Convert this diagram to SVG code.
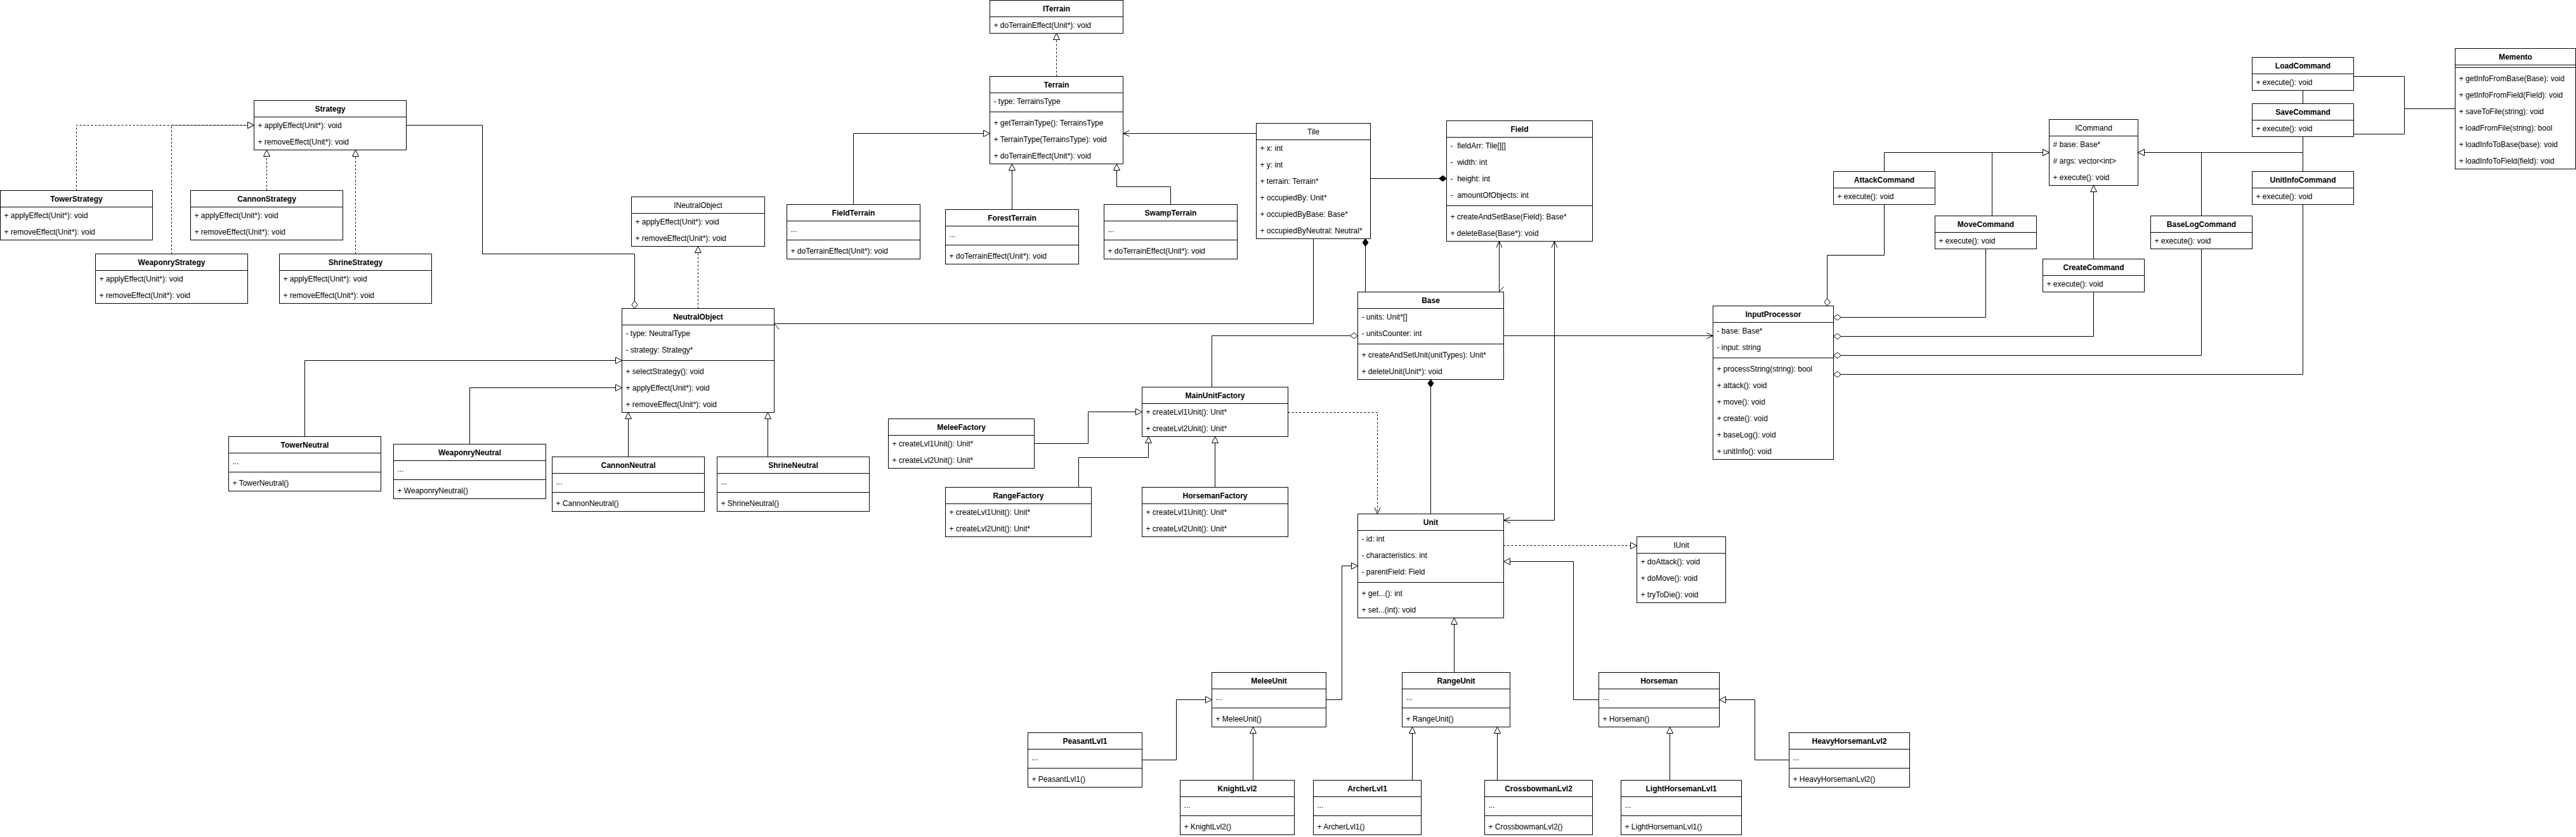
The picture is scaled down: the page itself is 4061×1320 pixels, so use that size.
<svg xmlns="http://www.w3.org/2000/svg" width="4061" height="1320" viewBox="0 0 4061 1320">
<style>
.c rect{fill:#fff;stroke:#000;stroke-width:1}
.c line{stroke:#000;stroke-width:1}
text{font-family:"Liberation Sans",Arial,Helvetica,sans-serif;font-size:12px;fill:#000}
.h{font-weight:bold;text-anchor:middle}
.hn{text-anchor:middle}
#connectors path{fill:none;stroke:#000;stroke-width:1}
#connectors .d{stroke-dasharray:3 3}
</style>
<defs>
<marker id="tri" markerUnits="userSpaceOnUse" orient="auto" refX="10" refY="5" markerWidth="12" markerHeight="12" overflow="visible"><path d="M0,0 L10,5 L0,10 Z" fill="#fff" stroke="#000" stroke-width="1"/></marker>
<marker id="open" markerUnits="userSpaceOnUse" orient="auto" refX="10" refY="5" markerWidth="12" markerHeight="12" overflow="visible"><path d="M0,0.5 L10,5 L0,9.5" fill="none" stroke="#000" stroke-width="1"/></marker>
<marker id="openS" markerUnits="userSpaceOnUse" orient="auto-start-reverse" refX="10" refY="5" markerWidth="12" markerHeight="12" overflow="visible"><path d="M0,0.5 L10,5 L0,9.5" fill="none" stroke="#000" stroke-width="1"/></marker>
<marker id="dia" markerUnits="userSpaceOnUse" orient="auto" refX="0" refY="5" markerWidth="14" markerHeight="12" overflow="visible"><path d="M0,5 L6,0.5 L12,5 L6,9.5 Z" fill="#fff" stroke="#000" stroke-width="1"/></marker>
<marker id="fdia" markerUnits="userSpaceOnUse" orient="auto" refX="0" refY="5" markerWidth="14" markerHeight="12" overflow="visible"><path d="M0,5 L6,0.5 L12,5 L6,9.5 Z" fill="#000" stroke="#000" stroke-width="1"/></marker>
</defs>
<rect x="0" y="0" width="4061" height="1320" fill="#fff"/>
<g transform="translate(0.5,0.5)">
<g id="connectors">
<path class="d" d="M120,300 V197 H400" marker-end="url(#tri)"/>
<path class="d" d="M270,400 V197 H400" marker-end="url(#tri)"/>
<path class="d" d="M420,300 V236" marker-end="url(#tri)"/>
<path class="d" d="M560,400 V236" marker-end="url(#tri)"/>
<path d="M1000,486 V400 H760 V197 H640" marker-start="url(#dia)"/>
<path class="d" d="M1100,486 V388" marker-end="url(#tri)"/>
<path d="M480,688 V568 H980" marker-end="url(#tri)"/>
<path d="M740,700 V611 H980" marker-end="url(#tri)"/>
<path d="M990,720 V650" marker-end="url(#tri)"/>
<path d="M1210,720 V650" marker-end="url(#tri)"/>
<path class="d" d="M1665,120 V52" marker-end="url(#tri)"/>
<path d="M1345,322 V210 H1560" marker-end="url(#tri)"/>
<path d="M1595,330 V258" marker-end="url(#tri)"/>
<path d="M1845,322 V294 H1760 V258" marker-end="url(#tri)"/>
<path d="M1980,210 H1770" marker-end="url(#open)"/>
<path d="M2070,376 V510 H1220"/>
<path d="M1215,519 L1220,510 L1228,519"/>
<path d="M2280,281 H2160" marker-start="url(#fdia)"/>
<path d="M2152,376 V460" marker-start="url(#fdia)"/>
<path d="M2363,460 V380" marker-end="url(#open)"/>
<path d="M2363,459 L2370,452"/>
<path d="M2370,820 H2450 V380" marker-start="url(#openS)" marker-end="url(#open)"/>
<path d="M2140,529 H1910 V610" marker-start="url(#dia)"/>
<path d="M2370,529 H2700" marker-end="url(#open)"/>
<path d="M2255,598 V810" marker-start="url(#fdia)"/>
<path class="d" d="M2030,650 H2171 V810" marker-end="url(#open)"/>
<path d="M1630,699 H1715 V649 H1800" marker-end="url(#tri)"/>
<path d="M1700,768 V721 H1810 V688" marker-end="url(#tri)"/>
<path d="M1915,768 V688" marker-end="url(#tri)"/>
<path class="d" d="M2370,860 H2580" marker-end="url(#tri)"/>
<path d="M2090,1103 H2115 V892 H2140" marker-end="url(#tri)"/>
<path d="M2292,1060 V974" marker-end="url(#tri)"/>
<path d="M2520,1103 H2480 V885 H2370" marker-end="url(#tri)"/>
<path d="M1800,1198 H1854 V1103 H1910" marker-end="url(#tri)"/>
<path d="M1975,1230 V1146" marker-end="url(#tri)"/>
<path d="M2226,1230 V1146" marker-end="url(#tri)"/>
<path d="M2360,1230 V1146" marker-end="url(#tri)"/>
<path d="M2632,1230 V1146" marker-end="url(#tri)"/>
<path d="M2820,1198 H2766 V1103 H2710" marker-end="url(#tri)"/>
<path d="M2970,270 V240 H3230" marker-end="url(#tri)"/>
<path d="M3140,340 V240 H3230" marker-end="url(#tri)"/>
<path d="M3300,408 V292" marker-end="url(#tri)"/>
<path d="M3470,340 V240 H3370" marker-end="url(#tri)"/>
<path d="M3630,270 V240 H3370" marker-end="url(#tri)"/>
<path d="M3630,215 V240"/>
<path d="M3630,142 V163"/>
<path d="M3710,120 H3790 V171 H3870"/>
<path d="M3710,211 H3790 V171"/>
<path d="M2880,482 V402 H2970 V322" marker-start="url(#dia)"/>
<path d="M2890,500 H3130 V392" marker-start="url(#dia)"/>
<path d="M2890,530 H3300 V460" marker-start="url(#dia)"/>
<path d="M2890,560 H3470 V392" marker-start="url(#dia)"/>
<path d="M2890,590 H3630 V322" marker-start="url(#dia)"/>
</g>

<g id="Strategy" class="c"><rect x="400" y="158" width="240" height="78"/><line x1="400" y1="184" x2="640" y2="184"/><text class="h" x="520" y="175">Strategy</text><text x="406" y="201">+ applyEffect(Unit*): void</text><text x="406" y="227">+ removeEffect(Unit*): void</text></g>
<g id="TowerStrategy" class="c"><rect x="0" y="300" width="240" height="78"/><line x1="0" y1="326" x2="240" y2="326"/><text class="h" x="120" y="317">TowerStrategy</text><text x="6" y="343">+ applyEffect(Unit*): void</text><text x="6" y="369">+ removeEffect(Unit*): void</text></g>
<g id="CannonStrategy" class="c"><rect x="300" y="300" width="240" height="78"/><line x1="300" y1="326" x2="540" y2="326"/><text class="h" x="420" y="317">CannonStrategy</text><text x="306" y="343">+ applyEffect(Unit*): void</text><text x="306" y="369">+ removeEffect(Unit*): void</text></g>
<g id="WeaponryStrategy" class="c"><rect x="150" y="400" width="240" height="78"/><line x1="150" y1="426" x2="390" y2="426"/><text class="h" x="270" y="417">WeaponryStrategy</text><text x="156" y="443">+ applyEffect(Unit*): void</text><text x="156" y="469">+ removeEffect(Unit*): void</text></g>
<g id="ShrineStrategy" class="c"><rect x="440" y="400" width="240" height="78"/><line x1="440" y1="426" x2="680" y2="426"/><text class="h" x="560" y="417">ShrineStrategy</text><text x="446" y="443">+ applyEffect(Unit*): void</text><text x="446" y="469">+ removeEffect(Unit*): void</text></g>

<g id="INeutralObject" class="c"><rect x="995" y="310" width="210" height="78"/><line x1="995" y1="336" x2="1205" y2="336"/><text class="hn" x="1100" y="327">INeutralObject</text><text x="1001" y="353">+ applyEffect(Unit*): void</text><text x="1001" y="379">+ removeEffect(Unit*): void</text></g>
<g id="NeutralObject" class="c"><rect x="980" y="486" width="240" height="164"/><line x1="980" y1="512" x2="1220" y2="512"/><line x1="980" y1="568" x2="1220" y2="568"/><text class="h" x="1100" y="503">NeutralObject</text><text x="986" y="529">- type: NeutralType</text><text x="986" y="555">- strategy: Strategy*</text><text x="986" y="589">+ selectStrategy(): void</text><text x="986" y="615">+ applyEffect(Unit*): void</text><text x="986" y="641">+ removeEffect(Unit*): void</text></g>
<g id="TowerNeutral" class="c"><rect x="360" y="688" width="240" height="86"/><line x1="360" y1="714" x2="600" y2="714"/><line x1="360" y1="744" x2="600" y2="744"/><text class="h" x="480" y="705">TowerNeutral</text><text x="366" y="731">...</text><text x="366" y="765">+ TowerNeutral()</text></g>
<g id="WeaponryNeutral" class="c"><rect x="620" y="700" width="240" height="86"/><line x1="620" y1="726" x2="860" y2="726"/><line x1="620" y1="756" x2="860" y2="756"/><text class="h" x="740" y="717">WeaponryNeutral</text><text x="626" y="743">...</text><text x="626" y="777">+ WeaponryNeutral()</text></g>
<g id="CannonNeutral" class="c"><rect x="870" y="720" width="240" height="86"/><line x1="870" y1="746" x2="1110" y2="746"/><line x1="870" y1="776" x2="1110" y2="776"/><text class="h" x="990" y="737">CannonNeutral</text><text x="876" y="763">...</text><text x="876" y="797">+ CannonNeutral()</text></g>
<g id="ShrineNeutral" class="c"><rect x="1130" y="720" width="240" height="86"/><line x1="1130" y1="746" x2="1370" y2="746"/><line x1="1130" y1="776" x2="1370" y2="776"/><text class="h" x="1250" y="737">ShrineNeutral</text><text x="1136" y="763">...</text><text x="1136" y="797">+ ShrineNeutral()</text></g>

<g id="ITerrain" class="c"><rect x="1560" y="0" width="210" height="52"/><line x1="1560" y1="26" x2="1770" y2="26"/><text class="h" x="1665" y="17">ITerrain</text><text x="1566" y="43">+ doTerrainEffect(Unit*): void</text></g>
<g id="Terrain" class="c"><rect x="1560" y="120" width="210" height="138"/><line x1="1560" y1="146" x2="1770" y2="146"/><line x1="1560" y1="176" x2="1770" y2="176"/><text class="h" x="1665" y="137">Terrain</text><text x="1566" y="163">- type: TerrainsType</text><text x="1566" y="197">+ getTerrainType(): TerrainsType</text><text x="1566" y="223">+ TerrainType(TerrainsType): void</text><text x="1566" y="249">+ doTerrainEffect(Unit*): void</text></g>
<g id="FieldTerrain" class="c"><rect x="1240" y="322" width="210" height="86"/><line x1="1240" y1="348" x2="1450" y2="348"/><line x1="1240" y1="378" x2="1450" y2="378"/><text class="h" x="1345" y="339">FieldTerrain</text><text x="1246" y="365">...</text><text x="1246" y="399">+ doTerrainEffect(Unit*): void</text></g>
<g id="ForestTerrain" class="c"><rect x="1490" y="330" width="210" height="86"/><line x1="1490" y1="356" x2="1700" y2="356"/><line x1="1490" y1="386" x2="1700" y2="386"/><text class="h" x="1595" y="347">ForestTerrain</text><text x="1496" y="373">...</text><text x="1496" y="407">+ doTerrainEffect(Unit*): void</text></g>
<g id="SwampTerrain" class="c"><rect x="1740" y="322" width="210" height="86"/><line x1="1740" y1="348" x2="1950" y2="348"/><line x1="1740" y1="378" x2="1950" y2="378"/><text class="h" x="1845" y="339">SwampTerrain</text><text x="1746" y="365">...</text><text x="1746" y="399">+ doTerrainEffect(Unit*): void</text></g>
<g id="Tile" class="c"><rect x="1980" y="194" width="180" height="182"/><line x1="1980" y1="220" x2="2160" y2="220"/><text class="hn" x="2070" y="211">Tile</text><text x="1986" y="237">+ x: int</text><text x="1986" y="263">+ y: int</text><text x="1986" y="289">+ terrain: Terrain*</text><text x="1986" y="315">+ occupiedBy: Unit*</text><text x="1986" y="341">+ occupiedByBase: Base*</text><text x="1986" y="367">+ occupiedByNeutral: Neutral*</text></g>
<g id="Field" class="c"><rect x="2280" y="190" width="230" height="190"/><line x1="2280" y1="216" x2="2510" y2="216"/><line x1="2280" y1="324" x2="2510" y2="324"/><text class="h" x="2395" y="207">Field</text><text x="2286" y="233" xml:space="preserve">-  fieldArr: Tile[][]</text><text x="2286" y="259" xml:space="preserve">-  width: int</text><text x="2286" y="285" xml:space="preserve">-  height: int</text><text x="2286" y="311" xml:space="preserve">-  amountOfObjects: int</text><text x="2286" y="345">+ createAndSetBase(Field): Base*</text><text x="2286" y="371">+ deleteBase(Base*): void</text></g>
<g id="Base" class="c"><rect x="2140" y="460" width="230" height="138"/><line x1="2140" y1="486" x2="2370" y2="486"/><line x1="2140" y1="542" x2="2370" y2="542"/><text class="h" x="2255" y="477">Base</text><text x="2146" y="503">- units: Unit*[]</text><text x="2146" y="529">- unitsCounter: int</text><text x="2146" y="563">+ createAndSetUnit(unitTypes): Unit*</text><text x="2146" y="589">+ deleteUnit(Unit*): void</text></g>
<g id="MainUnitFactory" class="c"><rect x="1800" y="610" width="230" height="78"/><line x1="1800" y1="636" x2="2030" y2="636"/><text class="h" x="1915" y="627">MainUnitFactory</text><text x="1806" y="653">+ createLvl1Unit(): Unit*</text><text x="1806" y="679">+ createLvl2Unit(): Unit*</text></g>
<g id="MeleeFactory" class="c"><rect x="1400" y="660" width="230" height="78"/><line x1="1400" y1="686" x2="1630" y2="686"/><text class="h" x="1515" y="677">MeleeFactory</text><text x="1406" y="703">+ createLvl1Unit(): Unit*</text><text x="1406" y="729">+ createLvl2Unit(): Unit*</text></g>
<g id="RangeFactory" class="c"><rect x="1490" y="768" width="230" height="78"/><line x1="1490" y1="794" x2="1720" y2="794"/><text class="h" x="1605" y="785">RangeFactory</text><text x="1496" y="811">+ createLvl1Unit(): Unit*</text><text x="1496" y="837">+ createLvl2Unit(): Unit*</text></g>
<g id="HorsemanFactory" class="c"><rect x="1800" y="768" width="230" height="78"/><line x1="1800" y1="794" x2="2030" y2="794"/><text class="h" x="1915" y="785">HorsemanFactory</text><text x="1806" y="811">+ createLvl1Unit(): Unit*</text><text x="1806" y="837">+ createLvl2Unit(): Unit*</text></g>
<g id="Unit" class="c"><rect x="2140" y="810" width="230" height="164"/><line x1="2140" y1="836" x2="2370" y2="836"/><line x1="2140" y1="918" x2="2370" y2="918"/><text class="h" x="2255" y="827">Unit</text><text x="2146" y="853">- id: int</text><text x="2146" y="879">- characteristics: int</text><text x="2146" y="905">- parentField: Field</text><text x="2146" y="939">+ get...(): int</text><text x="2146" y="965">+ set...(int): void</text></g>
<g id="IUnit" class="c"><rect x="2580" y="846" width="140" height="104"/><line x1="2580" y1="872" x2="2720" y2="872"/><text class="hn" x="2650" y="863">IUnit</text><text x="2586" y="889">+ doAttack(): void</text><text x="2586" y="915">+ doMove(): void</text><text x="2586" y="941">+ tryToDie(): void</text></g>
<g id="MeleeUnit" class="c"><rect x="1910" y="1060" width="180" height="86"/><line x1="1910" y1="1086" x2="2090" y2="1086"/><line x1="1910" y1="1116" x2="2090" y2="1116"/><text class="h" x="2000" y="1077">MeleeUnit</text><text x="1916" y="1103">...</text><text x="1916" y="1137">+ MeleeUnit()</text></g>
<g id="RangeUnit" class="c"><rect x="2210" y="1060" width="170" height="86"/><line x1="2210" y1="1086" x2="2380" y2="1086"/><line x1="2210" y1="1116" x2="2380" y2="1116"/><text class="h" x="2295" y="1077">RangeUnit</text><text x="2216" y="1103">...</text><text x="2216" y="1137">+ RangeUnit()</text></g>
<g id="Horseman" class="c"><rect x="2520" y="1060" width="190" height="86"/><line x1="2520" y1="1086" x2="2710" y2="1086"/><line x1="2520" y1="1116" x2="2710" y2="1116"/><text class="h" x="2615" y="1077">Horseman</text><text x="2526" y="1103">...</text><text x="2526" y="1137">+ Horseman()</text></g>
<g id="PeasantLvl1" class="c"><rect x="1620" y="1155" width="180" height="86"/><line x1="1620" y1="1181" x2="1800" y2="1181"/><line x1="1620" y1="1211" x2="1800" y2="1211"/><text class="h" x="1710" y="1172">PeasantLvl1</text><text x="1626" y="1198">...</text><text x="1626" y="1232">+ PeasantLvl1()</text></g>
<g id="KnightLvl2" class="c"><rect x="1860" y="1230" width="180" height="86"/><line x1="1860" y1="1256" x2="2040" y2="1256"/><line x1="1860" y1="1286" x2="2040" y2="1286"/><text class="h" x="1950" y="1247">KnightLvl2</text><text x="1866" y="1273">...</text><text x="1866" y="1307">+ KnightLvl2()</text></g>
<g id="ArcherLvl1" class="c"><rect x="2070" y="1230" width="170" height="86"/><line x1="2070" y1="1256" x2="2240" y2="1256"/><line x1="2070" y1="1286" x2="2240" y2="1286"/><text class="h" x="2155" y="1247">ArcherLvl1</text><text x="2076" y="1273">...</text><text x="2076" y="1307">+ ArcherLvl1()</text></g>
<g id="CrossbowmanLvl2" class="c"><rect x="2340" y="1230" width="170" height="86"/><line x1="2340" y1="1256" x2="2510" y2="1256"/><line x1="2340" y1="1286" x2="2510" y2="1286"/><text class="h" x="2425" y="1247">CrossbowmanLvl2</text><text x="2346" y="1273">...</text><text x="2346" y="1307">+ CrossbowmanLvl2()</text></g>
<g id="LightHorsemanLvl1" class="c"><rect x="2555" y="1230" width="190" height="86"/><line x1="2555" y1="1256" x2="2745" y2="1256"/><line x1="2555" y1="1286" x2="2745" y2="1286"/><text class="h" x="2650" y="1247">LightHorsemanLvl1</text><text x="2561" y="1273">...</text><text x="2561" y="1307">+ LightHorsemanLvl1()</text></g>
<g id="HeavyHorsemanLvl2" class="c"><rect x="2820" y="1155" width="190" height="86"/><line x1="2820" y1="1181" x2="3010" y2="1181"/><line x1="2820" y1="1211" x2="3010" y2="1211"/><text class="h" x="2915" y="1172">HeavyHorsemanLvl2</text><text x="2826" y="1198">...</text><text x="2826" y="1232">+ HeavyHorsemanLvl2()</text></g>
<g id="InputProcessor" class="c"><rect x="2700" y="482" width="190" height="242"/><line x1="2700" y1="508" x2="2890" y2="508"/><line x1="2700" y1="564" x2="2890" y2="564"/><text class="h" x="2795" y="499">InputProcessor</text><text x="2706" y="525">- base: Base*</text><text x="2706" y="551">- input: string</text><text x="2706" y="585">+ processString(string): bool</text><text x="2706" y="611">+ attack(): void</text><text x="2706" y="637">+ move(): void</text><text x="2706" y="663">+ create(): void</text><text x="2706" y="689">+ baseLog(): void</text><text x="2706" y="715">+ unitInfo(): void</text></g>
<g id="ICommand" class="c"><rect x="3230" y="188" width="140" height="104"/><line x1="3230" y1="214" x2="3370" y2="214"/><text class="hn" x="3300" y="205">ICommand</text><text x="3236" y="231"># base: Base*</text><text x="3236" y="257"># args: vector&lt;int&gt;</text><text x="3236" y="283">+ execute(): void</text></g>
<g id="AttackCommand" class="c"><rect x="2890" y="270" width="160" height="52"/><line x1="2890" y1="296" x2="3050" y2="296"/><text class="h" x="2970" y="287">AttackCommand</text><text x="2896" y="313">+ execute(): void</text></g>
<g id="MoveCommand" class="c"><rect x="3050" y="340" width="160" height="52"/><line x1="3050" y1="366" x2="3210" y2="366"/><text class="h" x="3130" y="357">MoveCommand</text><text x="3056" y="383">+ execute(): void</text></g>
<g id="CreateCommand" class="c"><rect x="3220" y="408" width="160" height="52"/><line x1="3220" y1="434" x2="3380" y2="434"/><text class="h" x="3300" y="425">CreateCommand</text><text x="3226" y="451">+ execute(): void</text></g>
<g id="BaseLogCommand" class="c"><rect x="3390" y="340" width="160" height="52"/><line x1="3390" y1="366" x2="3550" y2="366"/><text class="h" x="3470" y="357">BaseLogCommand</text><text x="3396" y="383">+ execute(): void</text></g>
<g id="UnitInfoCommand" class="c"><rect x="3550" y="270" width="160" height="52"/><line x1="3550" y1="296" x2="3710" y2="296"/><text class="h" x="3630" y="287">UnitInfoCommand</text><text x="3556" y="313">+ execute(): void</text></g>
<g id="LoadCommand" class="c"><rect x="3550" y="90" width="160" height="52"/><line x1="3550" y1="116" x2="3710" y2="116"/><text class="h" x="3630" y="107">LoadCommand</text><text x="3556" y="133">+ execute(): void</text></g>
<g id="SaveCommand" class="c"><rect x="3550" y="163" width="160" height="52"/><line x1="3550" y1="189" x2="3710" y2="189"/><text class="h" x="3630" y="180">SaveCommand</text><text x="3556" y="206">+ execute(): void</text></g>
<g id="Memento" class="c"><rect x="3870" y="76" width="190" height="190"/><line x1="3870" y1="102" x2="4060" y2="102"/><line x1="3870" y1="106" x2="4060" y2="106"/><text class="h" x="3965" y="93">Memento</text><text x="3876" y="127">+ getInfoFromBase(Base): void</text><text x="3876" y="153">+ getInfoFromField(Field): void</text><text x="3876" y="179">+ saveToFile(string): void</text><text x="3876" y="205">+ loadFromFile(string): bool</text><text x="3876" y="231">+ loadInfoToBase(base): void</text><text x="3876" y="257">+ loadInfoToField(field): void</text></g>
</g>
</svg>
